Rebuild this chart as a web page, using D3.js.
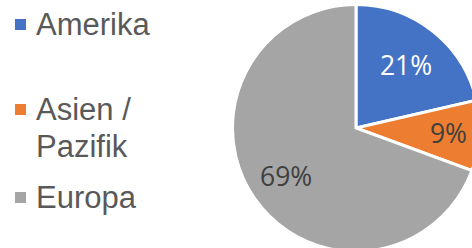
<!DOCTYPE html>
<html>
<head>
<meta charset="utf-8">
<script src="https://cdn.jsdelivr.net/npm/d3@7"></script>
<style>
  html, body { margin: 0; padding: 0; background: #fff; overflow: hidden; }
  svg { display: block; }
</style>
</head>
<body>
<svg id="chart" width="472" height="248"></svg>
<script>
// data
const regions = ['Amerika', 'Asien / Pazifik', 'Europa'];
const shares = [21.4, 9.2, 69.4];
const legendLines = [['Amerika'], ['Asien /', 'Pazifik'], ['Europa']];

const colors = ['#4472C4', '#ED7D31', '#A5A5A5'];
const labelColors = ['#ffffff', '#404040', '#404040'];
const labelRadius = [0.65, 0.75, 0.69];

const svg = d3.select('#chart');
const width = 472, height = 248;
const cx = 356, cy = 128, radius = 123.5;

const total = d3.sum(shares);
const pie = d3.pie().sort(null).value(d => d);
const arc = d3.arc().innerRadius(0).outerRadius(radius);

const g = svg.append('g').attr('transform', `translate(${cx},${cy})`);
const arcs = pie(shares);

g.selectAll('path')
  .data(arcs)
  .enter()
  .append('path')
  .attr('d', arc)
  .attr('fill', (d, i) => colors[i])
  .attr('stroke', '#fff')
  .attr('stroke-width', 3)
  .attr('stroke-linejoin', 'miter');

// percentage labels
g.selectAll('text.pct')
  .data(arcs)
  .enter()
  .append('text')
  .attr('class', 'pct')
  .attr('transform', (d, i) => {
    const a = (d.startAngle + d.endAngle) / 2;
    const r = radius * labelRadius[i];
    return `translate(${r * Math.sin(a)},${-r * Math.cos(a)})`;
  })
  .attr('text-anchor', 'middle')
  .attr('dy', '0.36em')
  .attr('font-family', '"Open Sans", "Noto Sans", sans-serif')
  .attr('font-size', '26.5px')
  .attr('fill', (d, i) => labelColors[i])
  .text(d => Math.round(d.value / total * 100) + '%');

// legend
const legendBaselines = [35, 120, 208];
const lineHeight = 37;
const legend = svg.append('g');

regions.forEach((name, i) => {
  const item = legend.append('g');
  item.append('rect')
    .attr('x', 15)
    .attr('y', legendBaselines[i] - 16)
    .attr('width', 11)
    .attr('height', 11)
    .attr('fill', colors[i]);
  const t = item.append('text')
    .attr('x', 36)
    .attr('y', legendBaselines[i])
    .attr('font-family', '"Liberation Sans", Arial, sans-serif')
    .attr('font-size', '31px')
    .attr('fill', '#595959');
  legendLines[i].forEach((line, j) => {
    t.append('tspan')
      .attr('x', 36)
      .attr('dy', j === 0 ? 0 : lineHeight)
      .text(line);
  });
});
</script>
</body>
</html>
